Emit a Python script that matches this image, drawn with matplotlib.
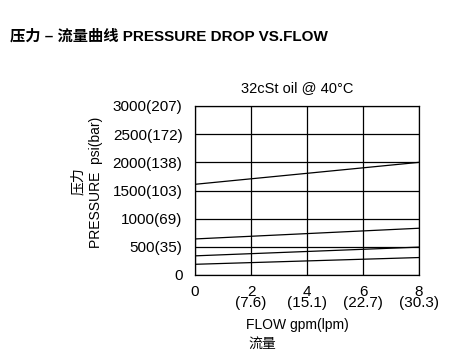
import matplotlib.pyplot as plt

fonts = ['Liberation Sans', 'Noto Sans CJK SC', 'DejaVu Sans']
plt.rcParams['font.family'] = fonts

flow = [0, 8]
curves = [
    [1610, 2000],
    [640, 830],
    [340, 495],
    [190, 310],
]
xticks = [0, 2, 4, 6, 8]
xtick_labels = ['0', '2\n(7.6)', '4\n(15.1)', '6\n(22.7)', '8\n(30.3)']
yticks = [0, 500, 1000, 1500, 2000, 2500, 3000]
ytick_labels = ['0', '500(35)', '1000(69)', '1500(103)', '2000(138)', '2500(172)', '3000(207)']

fig = plt.figure(figsize=(4.76, 3.59), dpi=100)
ax = fig.add_axes([195 / 476, 1 - 275 / 359, 224 / 476, 169 / 359])

for c in curves:
    ax.plot(flow, c, color='black', lw=0.9)

ax.set_xlim(0, 8)
ax.set_ylim(0, 3000)
ax.set_xticks(xticks)
ax.set_xticklabels(xtick_labels, fontsize=11, linespacing=0.75)
ax.set_yticks(yticks)
ax.set_yticklabels(ytick_labels, fontsize=11)
ax.tick_params(axis='y', length=0, pad=9)
ax.tick_params(axis='x', length=0, pad=7)
ax.grid(True, color='black', lw=0.9)
for s in ax.spines.values():
    s.set_linewidth(0.9)

fig.text(297 / 476, 1 - 88 / 359, '32cSt oil @ 40°C', fontsize=10.5,
         ha='center', va='center')

fig.text(10 / 476, 1 - 36 / 359, '压力 – 流量曲线 PRESSURE DROP VS.FLOW',
         fontsize=11, fontweight='bold', va='center', ha='left')

fig.text(96 / 476, 1 - 182 / 359, 'PRESSURE  psi(bar)', rotation=90,
         fontsize=10, ha='center', va='center')
fig.text(78 / 476, 1 - 181 / 359, '压力', rotation=90,
         fontsize=10, ha='center', va='center')

fig.text(297 / 476, 1 - 325 / 359, 'FLOW gpm(lpm)', fontsize=10,
         ha='center', va='center')
fig.text(262 / 476, 1 - 344 / 359, '流量', fontsize=10,
         ha='center', va='center')

fig.savefig('out.png', dpi=100)
